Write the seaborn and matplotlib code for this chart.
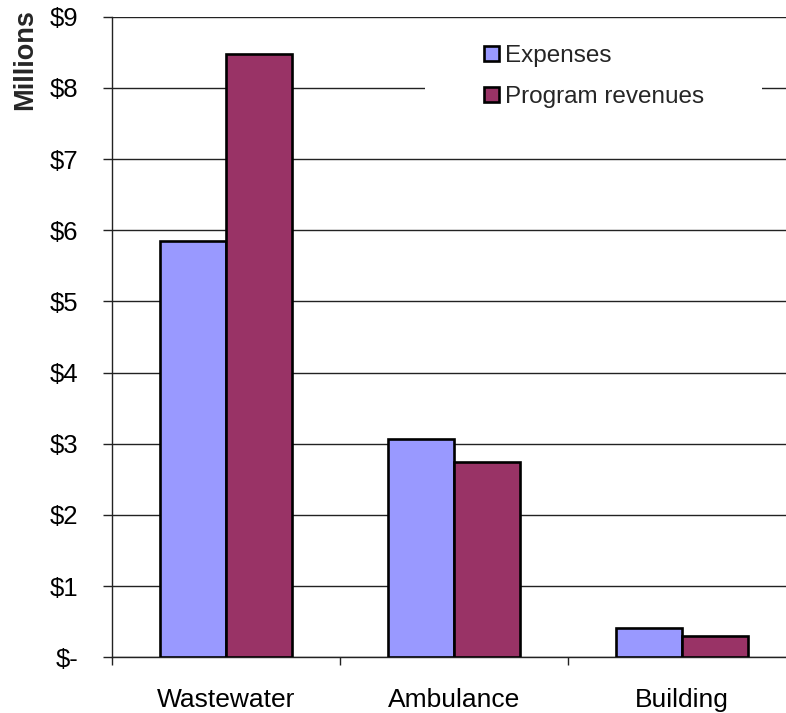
import matplotlib
matplotlib.use("Agg")
import matplotlib.pyplot as plt
from matplotlib.patches import Patch, Rectangle
from matplotlib.ticker import FixedLocator, FuncFormatter
import seaborn as sns
import pandas as pd

# Program costs vs. revenues, in millions of dollars
programs = ["Wastewater", "Ambulance", "Building"]
series = ["Expenses", "Program revenues"]
expenses = [5.85, 3.07, 0.41]
revenues = [8.47, 2.74, 0.30]
colors = ["#9999FF", "#993366"]

df = pd.DataFrame({
    "program": programs * 2,
    "series": [series[0]] * 3 + [series[1]] * 3,
    "value": expenses + revenues,
})

sns.set_theme(style="white")
plt.rcParams["font.family"] = ["Liberation Sans", "DejaVu Sans"]

fig = plt.figure(figsize=(7.86, 7.13), dpi=100)
ax = fig.add_axes([112 / 786, 55.7 / 713, 684 / 786, 640.6 / 713])

sns.barplot(
    data=df, x="program", y="value", hue="series", order=programs,
    hue_order=series, palette=colors, width=0.575, saturation=1,
    edgecolor="black", linewidth=1.9, ax=ax, legend=False, zorder=3,
)

ax.set_xlim(-0.5, 2.5)
ax.set_ylim(0, 9)
ax.set_xlabel("")
ax.set_ylabel("")

# y axis: accounting-style dollar labels
ax.set_yticks(range(0, 10))
ax.yaxis.set_major_formatter(
    FuncFormatter(lambda v, _: "$-" if v == 0 else f"${int(v)}"))
ax.tick_params(axis="y", which="major", direction="out", length=6.5,
               width=1, color="#222222", pad=18, labelsize=18.5,
               labelcolor="black", left=True)

# x axis: labels centred, tick marks between categories
ax.xaxis.set_minor_locator(FixedLocator([-0.5, 0.5, 1.5, 2.5]))
ax.tick_params(axis="x", which="major", length=0, pad=22, labelsize=19,
               labelcolor="black")
ax.tick_params(axis="x", which="minor", direction="out", length=6,
               width=1, color="#222222", bottom=True)

ax.grid(axis="y", color="#222222", linewidth=1, zorder=0)
ax.set_axisbelow(True)
for side in ["top", "right"]:
    ax.spines[side].set_visible(False)
for side in ["left", "bottom"]:
    ax.spines[side].set_color("#222222")
    ax.spines[side].set_linewidth(1)

# white legend backdrop over the gridlines
fig.patches.append(Rectangle((425 / 786, 1 - 120 / 713), 337 / 786, 95 / 713,
                             transform=fig.transFigure, facecolor="white",
                             edgecolor="none", zorder=2))
handles = [Patch(facecolor=c, edgecolor="black", linewidth=1.9) for c in colors]
leg = fig.legend(handles, series, loc="upper left",
                 bbox_to_anchor=(467 / 786, 1 - 28 / 713), frameon=False,
                 fontsize=17.5, handlelength=0.6, handleheight=0.6,
                 handletextpad=0.25, labelspacing=0.78, borderpad=0.2)
leg.set_zorder(5)

fig.text(25 / 786, 1 - 9 / 713, "Millions", rotation=90, ha="center",
         va="top", fontsize=19.5, fontweight="bold")

fig.savefig("out.png", dpi=100)
